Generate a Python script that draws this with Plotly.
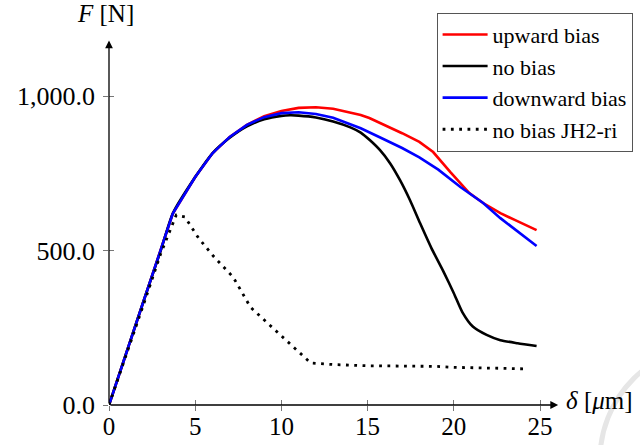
import plotly.graph_objects as go

# ---------------- data ----------------
up_x = [0, 1, 2, 3, 3.7, 5, 6, 7, 8, 9, 10, 11, 12, 13, 14, 14.6, 15.1, 16, 17, 18, 18.8, 19.8, 20.9, 21.7, 22.7, 23.5, 24.2, 24.8]
up_y = [0, 168, 336, 500, 620, 738, 815, 868, 907, 935, 952, 962, 964, 959, 948, 939, 929, 906, 880, 852, 819, 754, 686, 654, 621, 600, 583, 566]

no_x = [0, 1, 2, 3, 3.7, 5, 6, 7, 8, 9, 10, 10.5, 11, 12, 13, 14, 14.6, 15.14, 15.72, 16.3, 16.88, 17.46, 18.04, 18.7, 19.4, 20.0, 20.5, 21.1, 21.9, 22.7, 23.7, 24.8]
no_y = [0, 168, 336, 500, 620, 738, 815, 865, 902, 925, 936, 938, 937, 931, 918, 899, 882, 857, 825, 783, 728, 663, 589, 508, 432, 362, 300, 254, 227, 210, 200, 191]

down_x = [0, 1, 2, 3, 3.7, 5, 6, 7, 8, 9, 10, 11, 12, 13, 14, 14.6, 15.7, 17, 18, 19.1, 20.4, 21.7, 22.7, 23.5, 24.2, 24.8]
down_y = [0, 168, 336, 500, 620, 738, 815, 868, 907, 932, 945, 948, 942, 930, 910, 896, 867, 832, 802, 762, 705, 654, 605, 570, 542, 515]

jh_x = [0, 1, 2, 3, 3.9, 4.4, 5.2, 6.1, 7.2, 7.7, 8.2, 9.2, 10.6, 11.4, 11.7, 13, 15, 17, 19, 20, 22, 24.2]
jh_y = [0, 160, 325, 490, 615, 609, 540, 479, 414, 366, 317, 265, 194, 152, 136, 131, 127, 126, 125, 122, 120, 117]

x_ticks = [0, 5, 10, 15, 20, 25]
y_ticks = [0, 500, 1000]
y_tick_text = ["0.0", "500.0", "1,000.0"]

FONT = "Liberation Serif"

fig = go.Figure()
fig.add_trace(go.Scatter(x=up_x, y=up_y, mode="lines", name="upward bias",
                         line=dict(color="#ff0000", width=2.6)))
fig.add_trace(go.Scatter(x=no_x, y=no_y, mode="lines", name="no bias",
                         line=dict(color="#000000", width=2.6, shape="spline", smoothing=0.6)))
fig.add_trace(go.Scatter(x=down_x, y=down_y, mode="lines", name="downward bias",
                         line=dict(color="#0000ff", width=2.6)))
fig.add_trace(go.Scatter(x=jh_x, y=jh_y, mode="lines", name="no bias JH2-ri",
                         line=dict(color="#000000", width=2.8, dash="2.8px,5.5px")))

# overlay axes for crossing tick marks
fig.add_trace(go.Scatter(x=[0], y=[0], xaxis="x2", yaxis="y2", mode="markers",
                         marker=dict(opacity=0), showlegend=False, hoverinfo="skip"))

XR = [0, 26.1]
YR = [0, 1185]

fig.update_layout(
    width=640, height=445,
    margin=dict(l=109, r=81, t=39, b=40, autoexpand=False),
    paper_bgcolor="white", plot_bgcolor="white",
    font=dict(family=FONT, color="black"),
    showlegend=True,
    legend=dict(x=0.728, y=1.072, xanchor="left", yanchor="top",
                bordercolor="#555555", borderwidth=1, bgcolor="white",
                font=dict(family=FONT, size=22), tracegroupgap=0,
                itemwidth=45),
    xaxis=dict(range=XR, showgrid=False, zeroline=False, showline=False,
               automargin=False,
               tickmode="array", tickvals=x_ticks, ticks="inside", ticklen=5,
               tickcolor="#777777", tickwidth=1,
               tickfont=dict(family=FONT, size=25), ticklabelstandoff=4),
    yaxis=dict(range=YR, showgrid=False, zeroline=False, showline=False,
               automargin=False,
               tickmode="array", tickvals=y_ticks, ticktext=y_tick_text,
               ticks="inside", ticklen=5, tickcolor="#777777", tickwidth=1,
               tickfont=dict(family=FONT, size=26), ticklabelstandoff=13),
    xaxis2=dict(range=XR, overlaying="x", showgrid=False, zeroline=False,
                showline=False, tickmode="array", tickvals=x_ticks, ticks="outside",
                ticklen=5, tickcolor="#777777", showticklabels=False, side="bottom",
                anchor="y"),
    yaxis2=dict(range=YR, overlaying="y", showgrid=False, zeroline=False,
                showline=False, tickmode="array", tickvals=y_ticks, ticks="outside",
                ticklen=5, tickcolor="#777777", showticklabels=False, side="left",
                anchor="x"),
)

# axis lines with arrowheads
fig.add_annotation(x=26.05, y=0, ax=0, ay=0, xref="x", yref="y", axref="x", ayref="y",
                   text="", showarrow=True, arrowhead=2, arrowsize=1.2, arrowwidth=1.3,
                   arrowcolor="black", standoff=0)
fig.add_annotation(x=0, y=1180, ax=0, ay=0, xref="x", yref="y", axref="x", ayref="y",
                   text="", showarrow=True, arrowhead=2, arrowsize=1.2, arrowwidth=1.3,
                   arrowcolor="black", standoff=0)

# axis titles
fig.add_annotation(x=-0.008, y=1.07, xref="paper", yref="paper", showarrow=False,
                   text="<i>F</i> [N]", font=dict(family=FONT, size=25),
                   xanchor="center", yanchor="middle")
fig.add_annotation(x=1.01, y=0.012, xref="paper", yref="paper", showarrow=False,
                   text="<i>δ</i> [<i>μ</i>m]", font=dict(family=FONT, size=25),
                   xanchor="left", yanchor="middle")

# faint page arc in the corner
fig.add_shape(type="circle", xref="paper", yref="paper",
              x0=1.091, x1=1.602, y0=-0.464, y1=0.164,
              line=dict(color="#e6e6e6", width=5), layer="below")

fig.write_html("out.html")
